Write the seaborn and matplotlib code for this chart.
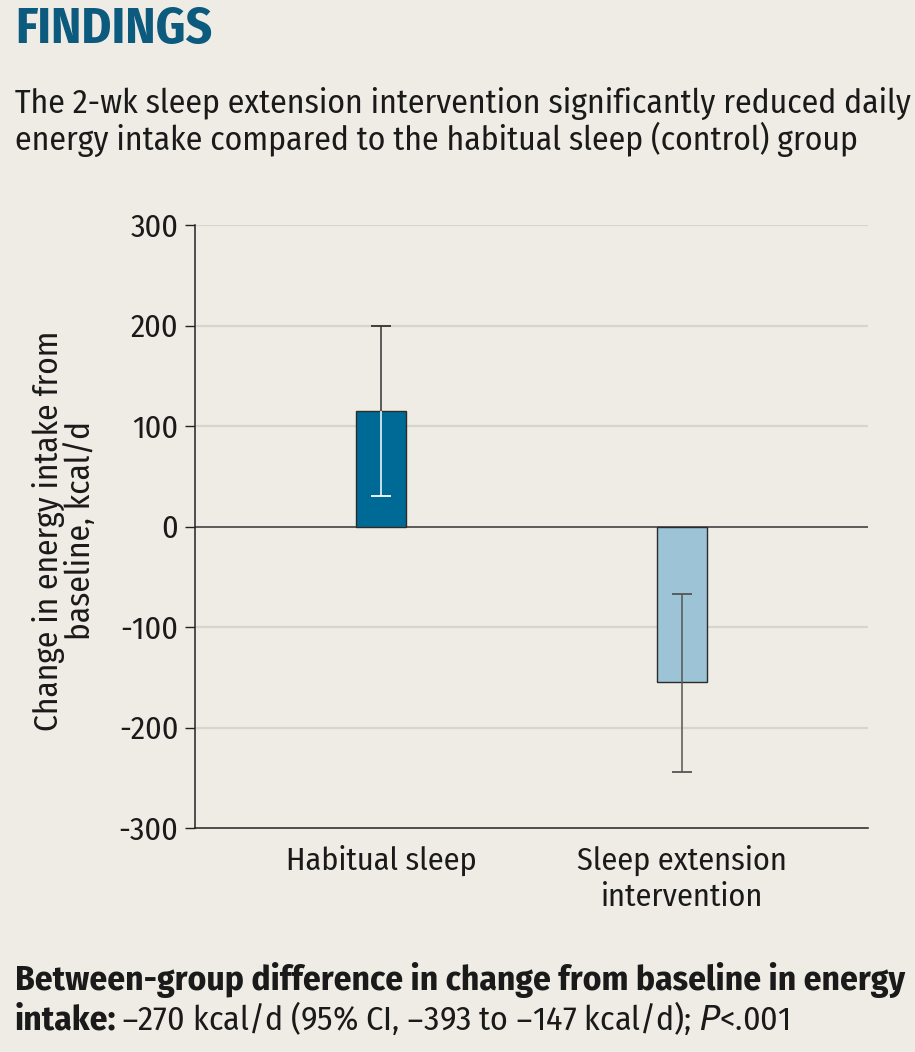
import matplotlib
matplotlib.use('Agg')
import matplotlib.pyplot as plt
import seaborn as sns
import pandas as pd

# Values.
groups = ['Habitual sleep', 'Sleep extension\nintervention']
change = [115, -155]
ci_low = [30, -244]
ci_high = [200, -67]
bar_colors = ['#006A96', '#9DC4D6']
y_ticks = [-300, -200, -100, 0, 100, 200, 300]

bg = '#EEECE4'
txt = '#1a1a1a'
sns.set_theme(style='white')
plt.rcParams['font.family'] = ['Fira Sans Condensed', 'DejaVu Sans']

df = pd.DataFrame({'group': groups, 'change': change})

fig = plt.figure(figsize=(9.15, 10.52), dpi=100, facecolor=bg)
renderer = fig.canvas.get_renderer()
W, H = 915, 1052


def fit_size(s, target_px, **kw):
    # font size that makes text s about target_px wide
    t = fig.text(0, 0, s, fontsize=20, **kw)
    w = t.get_window_extent(renderer).width
    t.remove()
    return 20 * target_px / w


ax = fig.add_axes([195 / W, 1 - 828 / H, 673 / W, 603 / H])
ax.set_facecolor(bg)

sns.barplot(data=df, x='group', y='change', hue='group', palette=bar_colors,
            saturation=1, width=0.163, errorbar=None, legend=False, ax=ax,
            edgecolor='#2b2b2b', linewidth=1, zorder=3)

# Error bars: the part inside the dark bar is drawn white.
inner = ['white', '#555555']
outer = ['#333333', '#555555']
cap = 0.034
for i in range(len(groups)):
    lo, hi, m = ci_low[i], ci_high[i], change[i]
    if m > 0:
        ax.vlines(i, lo, m, color=inner[i], lw=1.1, zorder=4)
        ax.hlines(lo, i - cap, i + cap, color=inner[i], lw=1.3, zorder=4)
        ax.vlines(i, m, hi, color=outer[i], lw=1.1, zorder=4)
        ax.hlines(hi, i - cap, i + cap, color=outer[i], lw=1.3, zorder=4)
    else:
        ax.vlines(i, lo, hi, color=outer[i], lw=1.1, zorder=4)
        ax.hlines([lo, hi], i - cap, i + cap, color=outer[i], lw=1.3, zorder=4)

for t in y_ticks:
    if t == 0:
        ax.axhline(0, color='#333333', lw=1.1, zorder=2)
    elif t != -300:
        ax.axhline(t, color='#D6D6CF', lw=1.6, zorder=1)

tick_fs = fit_size('Habitual sleep', 191)
ax.set_ylim(-300, 300)
ax.set_xlim(-0.618, 1.618)
ax.set_yticks(y_ticks)
ax.set_yticklabels([str(t) for t in y_ticks])
ax.tick_params(axis='y', length=7, width=1, color='#222222', labelsize=tick_fs,
               labelcolor=txt, pad=5, left=True)
ax.tick_params(axis='x', length=0, labelsize=tick_fs, labelcolor=txt, pad=12)
for lab in ax.get_xticklabels():
    lab.set_linespacing(1.25)
for s in ['top', 'right']:
    ax.spines[s].set_visible(False)
for s in ['left', 'bottom']:
    ax.spines[s].set_color('#222222')
    ax.spines[s].set_linewidth(1.1)
ax.set_xlabel('')
ax.set_ylabel('')

ylab = 'Change in energy intake from'
fig.text(64 / W, 1 - 531 / H, ylab + '\nbaseline, kcal/d', rotation=90,
         ha='center', va='center', multialignment='center', linespacing=1.0,
         fontsize=fit_size(ylab, 400), color=txt)

fig.text(15 / W, 1 - 43 / H, 'FINDINGS', fontsize=fit_size('FINDINGS', 197, fontweight='bold'),
         fontweight='bold', color='#0C5A7E', va='baseline')

sub1 = 'The 2-wk sleep extension intervention significantly reduced daily'
sub_fs = fit_size(sub1, 895)
fig.text(15 / W, 1 - 113 / H, sub1, fontsize=sub_fs, va='baseline', color=txt)
fig.text(15 / W, 1 - 150 / H, 'energy intake compared to the habitual sleep (control) group',
         fontsize=sub_fs, va='baseline', color=txt)

bot1 = 'Between-group difference in change from baseline in energy'
bot_fs = fit_size(bot1, 890, fontweight='bold')
fig.text(15 / W, 1 - 990 / H, bot1, fontsize=bot_fs, fontweight='bold', va='baseline', color=txt)
t_b = fig.text(15 / W, 1 - 1030 / H, 'intake:', fontsize=bot_fs, fontweight='bold',
               va='baseline', color=txt)
x_after = t_b.get_window_extent(renderer).x1 + 4
bot2 = '–270 kcal/d (95% CI, –393 to –147 kcal/d); $\\it{P}$<.001'
fig.text(x_after / W, 1 - 1030 / H, bot2, fontsize=fit_size(bot2, 790 - x_after),
         va='baseline', color=txt)

fig.savefig('out.png', dpi=100, facecolor=bg)
